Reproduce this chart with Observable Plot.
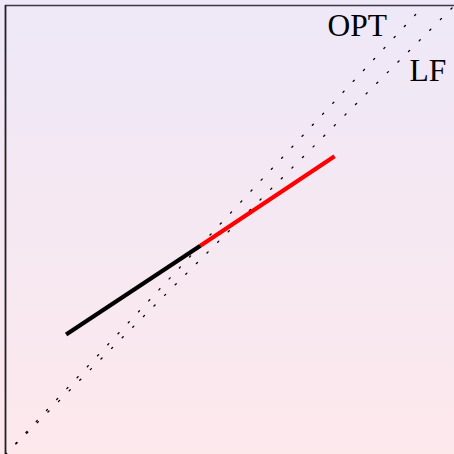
<!DOCTYPE html>
<html>
<head>
<meta charset="utf-8">
<script src="https://cdn.jsdelivr.net/npm/d3@7"></script>
<script src="https://cdn.jsdelivr.net/npm/@observablehq/plot@0.6"></script>
<style>
  html, body { margin: 0; padding: 0; }
  body { width: 454px; height: 454px; overflow: hidden;
         background: linear-gradient(#eee8f8, #fde8ec); }
</style>
</head>
<body>
<div id="chart"></div>
<script>
// Reference lines (endpoints)
const optX = [0, 0.932];
const optY = [0, 1];
const lfX = [0, 1];
const lfY = [0, 1];

// Trajectory: first leg black, second leg red
const legX = [0.135, 0.434, 0.733];
const legY = [0.267, 0.465, 0.664];
const legColors = ["black", "red"];

// Line labels
const labelText = ["OPT", "LF"];
const labelX = [0.717, 0.9];
const labelY = [0.931, 0.831];

const toPts = (xs, ys) => xs.map((x, i) => ({x, y: ys[i]}));
const segments = legColors.map((c, i) => ({
  color: c,
  pts: [{x: legX[i], y: legY[i]}, {x: legX[i + 1], y: legY[i + 1]}]
}));
const labels = labelText.map((t, i) => ({t, x: labelX[i], y: labelY[i]}));

const dotted = {stroke: "black", strokeWidth: 1.3, strokeDasharray: "1.5,13.5"};
const serif = "'Liberation Serif', 'Times New Roman', serif";

const chart = Plot.plot({
  width: 454,
  height: 454,
  marginLeft: 5,
  marginTop: 5,
  marginRight: 0,
  marginBottom: 0,
  style: {background: "transparent", fontFamily: serif},
  x: {domain: [0, 1], axis: null},
  y: {domain: [0, 1], axis: null},
  marks: [
    Plot.ruleY([1], {stroke: "#3a3a48", strokeWidth: 1.6}),
    Plot.ruleX([0], {stroke: "#222", strokeWidth: 1.8}),
    Plot.line(toPts(optX, optY), {x: "x", y: "y", ...dotted}),
    Plot.line(toPts(lfX, lfY), {x: "x", y: "y", ...dotted}),
    ...segments.map(s => Plot.line(s.pts, {x: "x", y: "y", stroke: s.color, strokeWidth: 4.2, strokeLinecap: "butt"})),
    Plot.text(labels, {x: "x", y: "y", text: "t", textAnchor: "start", lineAnchor: "bottom",
      fontSize: 31.5, fill: "black", fontFamily: serif})
  ]
});
document.getElementById("chart").appendChild(chart);
</script>
</body>
</html>
